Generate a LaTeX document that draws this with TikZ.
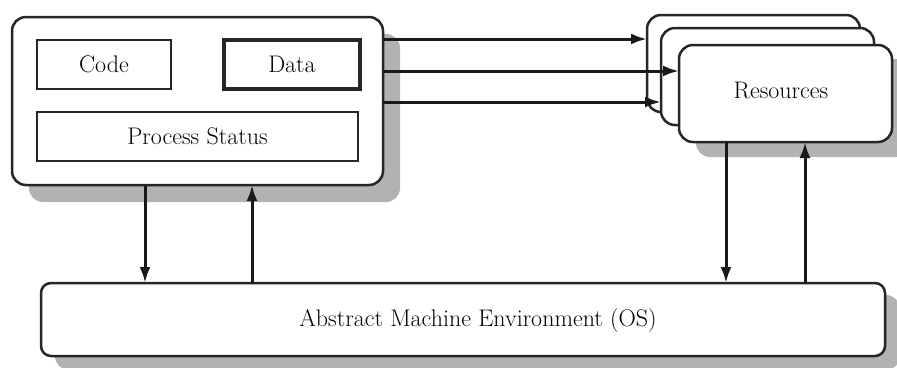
\documentclass[tikz,border=0pt]{standalone}
\usetikzlibrary{arrows.meta}
\begin{document}
\begin{tikzpicture}[x=1pt,y=-1pt,
  lbl/.style={font=\fontsize{24}{28}\selectfont, text=black},
  bigbox/.style={draw=black!85, line width=2.5pt, fill=white, rounded corners=14pt, inner sep=0pt, outer sep=0pt},
  inbox/.style={draw=black!85, line width=2.2pt, fill=white, inner sep=0pt, outer sep=0pt, lbl},
  shadow/.style={fill=black!30, rounded corners=14pt},
  arr/.style={line width=3pt, draw=black!90, -{Latex[length=16pt,width=11pt]}}]
\useasboundingbox (0,0) rectangle (897,367);
% shadows
\fill[shadow] (29,34) rectangle (400,202);
\fill[shadow] (696,59) rectangle (910,157);
\fill[shadow] (55,295) rectangle (900,370);
% process
\node[bigbox, minimum width=371pt, minimum height=168pt] (proc) at (197.5,101) {};
\node[inbox, minimum width=134pt, minimum height=49pt] (code) at (104,64.5) {Code};
\node[inbox, line width=3.2pt, minimum width=136pt, minimum height=49pt] (data) at (292,64.5) {Data};
\node[inbox, minimum width=321pt, minimum height=49pt] (ps) at (197.5,136.5) {Process Status};
% resources
\node[bigbox, minimum width=213pt, minimum height=97pt] (resA) at (753.5,63.5) {};
\node[bigbox, minimum width=213pt, minimum height=97pt] (resB) at (767.5,76.5) {};
\node[bigbox, minimum width=213pt, minimum height=97pt] (resC) at (785.5,93.5) {};
\node[lbl] (restext) at (781,90) {Resources};
% OS
\node[bigbox, rounded corners=10pt, minimum width=844pt, minimum height=73pt] (os) at (463,319.5) {};
\node[lbl] (ostext) at (478,321) {Abstract Machine Environment (OS)};
% arrows to resources
\draw[arr] (proc.east |- 0,39) -- (resA.west |- 0,39);
\draw[arr] (proc.east |- 0,71) -- (resC.west |- 0,71);
\draw[arr] (proc.east |- 0,102) -- (resB.west |- 0,102);
% vertical arrows
\draw[arr] (proc.south -| 145,0) -- (os.north -| 145,0);
\draw[arr] (os.north -| 252,0) -- (proc.south -| 252,0);
\draw[arr] (resC.south -| 726,0) -- (os.north -| 726,0);
\draw[arr] (os.north -| 805,0) -- (resC.south -| 805,0);
\end{tikzpicture}
\end{document}
